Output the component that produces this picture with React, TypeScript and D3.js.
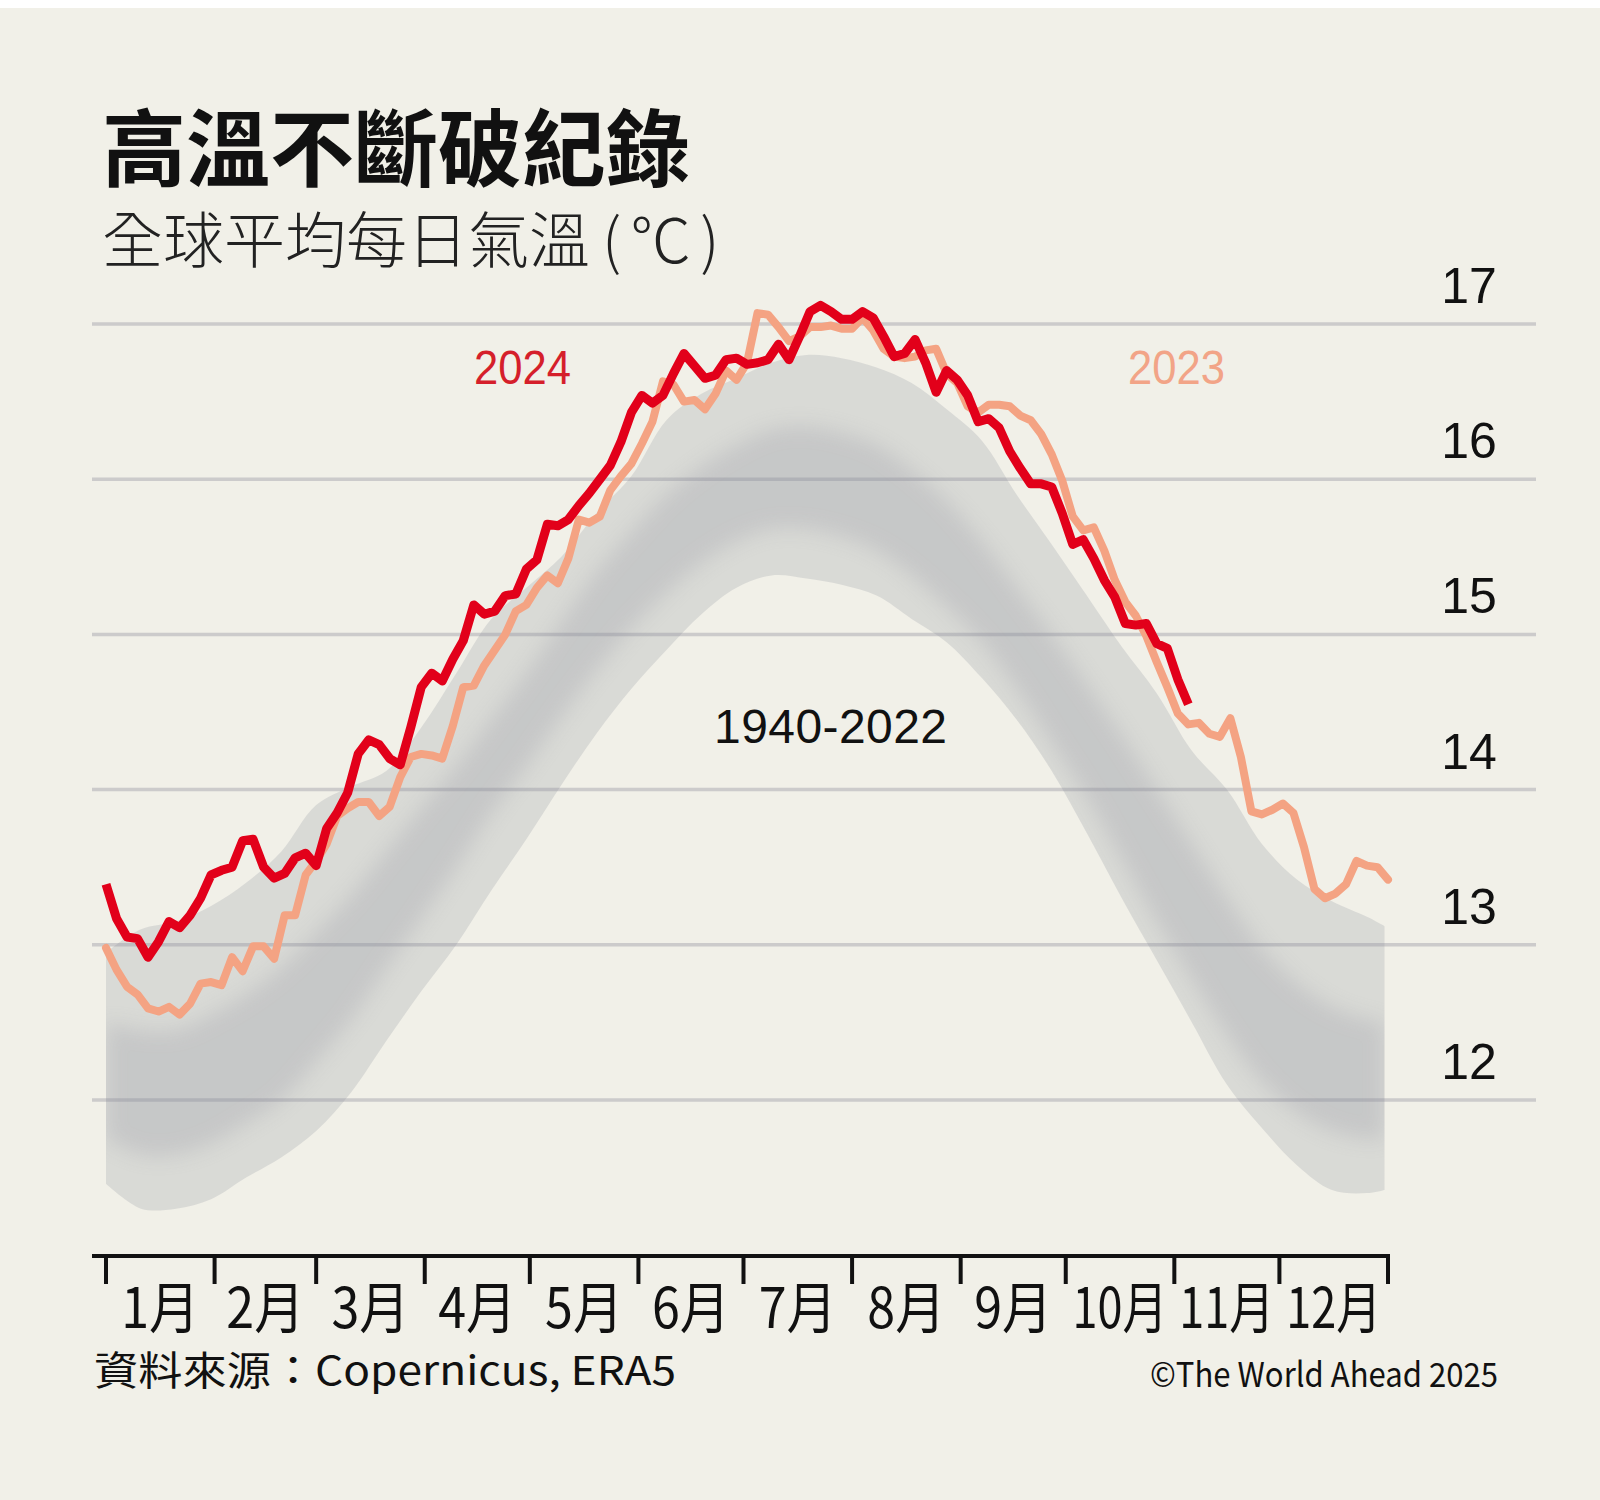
import React from "react"
import * as d3 from "d3"

const WIDTH = 1600
const HEIGHT = 1500

// daily global mean air temperature, sampled every 3 days from 1 Jan
const STEP = 3
const temps2024 = [
  13.39, 13.17, 13.05, 13.04, 12.92, 13.02, 13.15, 13.11, 13.19, 13.30,
  13.45, 13.48, 13.50, 13.67, 13.68, 13.50, 13.43, 13.46, 13.56, 13.59,
  13.51, 13.75, 13.85, 13.98, 14.23, 14.32, 14.29, 14.20, 14.16, 14.40,
  14.66, 14.75, 14.70, 14.84, 14.96, 15.19, 15.13, 15.15, 15.25, 15.26,
  15.42, 15.48, 15.71, 15.70, 15.74, 15.83, 15.91, 16.00, 16.09, 16.24,
  16.43, 16.54, 16.49, 16.54, 16.68, 16.81, 16.73, 16.65, 16.67, 16.77,
  16.78, 16.74, 16.75, 16.77, 16.87, 16.77, 16.92, 17.08, 17.12, 17.08,
  17.03, 17.03, 17.08, 17.04, 16.92, 16.79, 16.81, 16.90, 16.75, 16.56,
  16.70, 16.64, 16.54, 16.37, 16.39, 16.33, 16.18, 16.07, 15.97, 15.97,
  15.95, 15.78, 15.58, 15.61, 15.49, 15.35, 15.24, 15.07, 15.06, 15.07,
  14.94, 14.91, 14.71, 14.55,
]
const temps2023 = [
  12.98, 12.84, 12.73, 12.68, 12.59, 12.57, 12.60, 12.55, 12.62, 12.75,
  12.76, 12.74, 12.92, 12.83, 12.99, 12.99, 12.91, 13.19, 13.19, 13.45,
  13.54, 13.65, 13.83, 13.88, 13.92, 13.92, 13.83, 13.89, 14.08, 14.21,
  14.23, 14.22, 14.20, 14.41, 14.66, 14.67, 14.80, 14.90, 15.00, 15.15,
  15.19, 15.30, 15.38, 15.33, 15.49, 15.74, 15.72, 15.76, 15.93, 16.02,
  16.10, 16.23, 16.37, 16.63, 16.61, 16.50, 16.51, 16.45, 16.55, 16.70,
  16.64, 16.75, 17.07, 17.06, 16.98, 16.89, 16.92, 16.98, 16.98, 16.99,
  16.97, 16.97, 17.04, 16.96, 16.84, 16.79, 16.78, 16.79, 16.83, 16.84,
  16.68, 16.62, 16.47, 16.43, 16.48, 16.48, 16.47, 16.41, 16.38, 16.29,
  16.16, 15.99, 15.76, 15.67, 15.69, 15.54, 15.35, 15.21, 15.12, 14.99,
  14.82, 14.66, 14.49, 14.42, 14.43, 14.36, 14.34, 14.46, 14.21, 13.86,
  13.84, 13.87, 13.91, 13.85, 13.63, 13.36, 13.30, 13.33, 13.39, 13.54,
  13.51, 13.50, 13.42,
]

// 1940-2022 spread: outer envelope and the dense core
const bandDays = [
  0, 10, 20, 30, 40, 50, 60, 70, 80, 90, 100, 110, 120, 130, 140, 150, 160, 170, 180,
  190, 200, 210, 220, 230, 240, 250, 260, 270, 280, 290, 300, 310, 320, 330, 340, 350, 360, 365,
]
const bandMax = [
  12.95, 13.10, 13.15, 13.25, 13.40, 13.60, 13.90, 14.02, 14.12, 14.40, 14.75, 15.10, 15.30,
  15.50, 15.78, 16.02, 16.38, 16.55, 16.65, 16.75, 16.80, 16.78, 16.72, 16.62, 16.45, 16.25,
  15.90, 15.58, 15.25, 14.92, 14.62, 14.25, 14.00, 13.65, 13.42, 13.28, 13.18, 13.12,
]
const bandMin = [
  11.46, 11.30, 11.30, 11.36, 11.50, 11.63, 11.80, 12.05, 12.38, 12.70, 13.00, 13.35, 13.68,
  14.03, 14.36, 14.65, 14.90, 15.13, 15.30, 15.38, 15.36, 15.32, 15.25, 15.10, 14.95, 14.72,
  14.45, 14.12, 13.72, 13.30, 12.90, 12.50, 12.10, 11.82, 11.58, 11.42, 11.40, 11.42,
]
const coreHigh = [
  12.50, 12.45, 12.45, 12.55, 12.68, 12.85, 13.08, 13.32, 13.60, 13.88, 14.15, 14.45, 14.75,
  15.08, 15.40, 15.66, 15.90, 16.08, 16.22, 16.32, 16.34, 16.30, 16.22, 16.06, 15.86, 15.60,
  15.30, 15.00, 14.68, 14.35, 14.00, 13.65, 13.30, 12.98, 12.75, 12.60, 12.52, 12.50,
]
const coreLow = [
  11.75, 11.65, 11.65, 11.72, 11.85, 12.00, 12.25, 12.52, 12.85, 13.17, 13.50, 13.85, 14.15,
  14.47, 14.77, 15.04, 15.27, 15.46, 15.60, 15.68, 15.68, 15.63, 15.54, 15.38, 15.18, 14.95,
  14.65, 14.30, 13.95, 13.55, 13.15, 12.78, 12.42, 12.12, 11.92, 11.80, 11.75, 11.75,
]

const monthStarts = [0, 31, 60, 91, 121, 152, 182, 213, 244, 274, 305, 335, 366]
const monthLabels = ["1月", "2月", "3月", "4月", "5月", "6月", "7月", "8月", "9月", "10月", "11月", "12月"]
const yTicks = [12, 13, 14, 15, 16, 17]

const CJK = "'Noto Sans CJK TC', 'Noto Sans CJK SC', sans-serif"
const LATIN = "'Liberation Sans', Arial, sans-serif"

const x = d3.scaleLinear().domain([0, 366]).range([106, 1388])
const y = d3.scaleLinear().domain([12, 17]).range([1100, 324])

const line = d3
  .line<number>()
  .x((d, i) => x(i * STEP))
  .y(d => y(d))

const band = (hi: number[], lo: number[]) =>
  d3
    .area<number>()
    .x((d, i) => x(bandDays[i]))
    .y0((d, i) => y(lo[i]))
    .y1(d => y(d))
    .curve(d3.curveCatmullRom)(hi)

export default function App() {
  return (
    <svg
      width={WIDTH}
      height={HEIGHT}
      style={{ position: "absolute", left: 0, top: 0, display: "block" }}
    >
      <defs>
        <filter id="soft" x="-5%" y="-10%" width="110%" height="120%">
          <feGaussianBlur stdDeviation="10" />
        </filter>
        <clipPath id="bandClip">
          <path d={band(bandMax, bandMin) || ""} />
        </clipPath>
      </defs>
      <rect width={WIDTH} height={HEIGHT} fill="#f1f0e8" />
      <rect width={WIDTH} height={8} fill="#ffffff" />

      <text x={102} y={180} fontFamily={CJK} fontWeight={700} fontSize={84} fill="#111">
        高溫不斷破紀錄
      </text>
      <text x={102} y={263} fontFamily={CJK} fontWeight={300} fontSize={61} fill="#222">
        全球平均每日氣溫<tspan dx={12} letterSpacing={9}>(℃)</tspan>
      </text>

      {/* 1940-2022 */}
      <path d={band(bandMax, bandMin) || ""} fill="#a9aab0" opacity={0.32} />
      <g clipPath="url(#bandClip)">
        <path d={band(coreHigh, coreLow) || ""} fill="#9d9ea8" opacity={0.3} filter="url(#soft)" />
      </g>

      {yTicks.map(t => (
        <g key={t}>
          <line x1={92} x2={1536} y1={y(t)} y2={y(t)} stroke="#8a8a98" strokeOpacity={0.36} strokeWidth={3.5} />
          <text x={1469} y={y(t) - 21} textAnchor="middle" fontFamily={LATIN} fontSize={50} fill="#111">
            {t}
          </text>
        </g>
      ))}

      <path d={line(temps2023) || ""} fill="none" stroke="#f4a383" strokeWidth={8} strokeLinejoin="round" strokeLinecap="round" />
      <path d={line(temps2024) || ""} fill="none" stroke="#e2001a" strokeWidth={9} strokeLinejoin="round" />

      <text x={474} y={384} fontFamily={LATIN} fontSize={48} fill="#d51f2b" textLength={97} lengthAdjust="spacingAndGlyphs">
        2024
      </text>
      <text x={1128} y={384} fontFamily={LATIN} fontSize={48} fill="#f2a487" textLength={97} lengthAdjust="spacingAndGlyphs">
        2023
      </text>
      <text x={714} y={743} fontFamily={LATIN} fontSize={48} fill="#111" textLength={233} lengthAdjust="spacing">
        1940-2022
      </text>

      {/* month axis */}
      <line x1={92} x2={1390} y1={1256} y2={1256} stroke="#111" strokeWidth={4} />
      {monthStarts.map(d => (
        <line key={d} x1={x(d)} x2={x(d)} y1={1256} y2={1284} stroke="#111" strokeWidth={4} />
      ))}
      {monthLabels.map((m, i) => (
        <text
          key={m}
          x={(x(monthStarts[i]) + x(monthStarts[i + 1])) / 2}
          y={1328}
          textAnchor="middle"
          fontFamily={CJK}
          fontSize={56}
          fill="#111"
          textLength={m.length > 2 ? 95 : 78}
          lengthAdjust="spacingAndGlyphs"
        >
          {m}
        </text>
      ))}

      <text x={94} y={1385} fontFamily={CJK} fontSize={40} fill="#111" textLength={582} lengthAdjust="spacingAndGlyphs">
        資料來源：Copernicus, ERA5
      </text>
      <text x={1150} y={1387} fontFamily={CJK} fontSize={34} fill="#111" textLength={348} lengthAdjust="spacingAndGlyphs">
        ©The World Ahead 2025
      </text>
    </svg>
  )
}
